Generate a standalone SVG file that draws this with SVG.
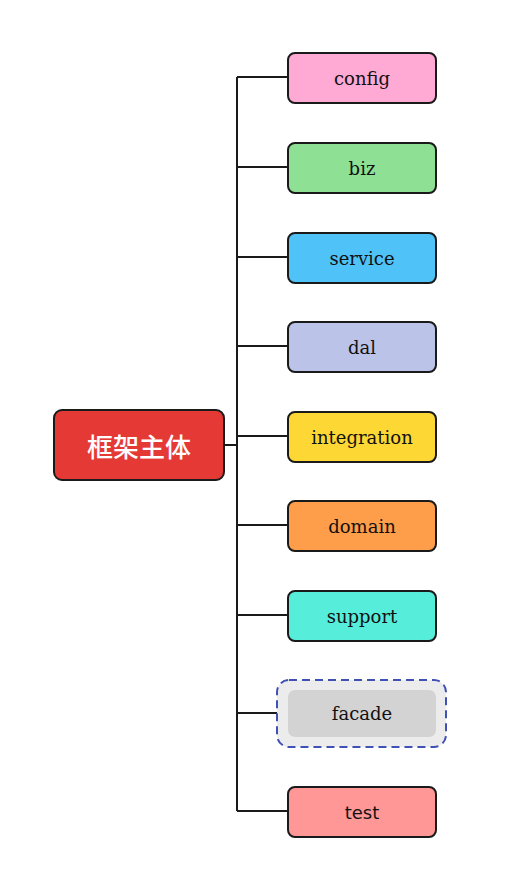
<svg xmlns="http://www.w3.org/2000/svg" width="510" height="890" viewBox="0 0 510 890">
<style>
.n{stroke:#1a1a1a;stroke-width:2}
.t{font-family:"DejaVu Serif","Liberation Serif",serif;font-size:18px;fill:#111;text-anchor:middle;dominant-baseline:central}
.c{fill:none;stroke:#1a1a1a;stroke-width:2}
</style>
<rect width="510" height="890" fill="#ffffff"/>
<g id="connectors">
<path class="c" d="M224 445H237M237 77V811M237 77H288M237 167H288M237 257H288M237 346H288M237 436H288M237 525H288M237 615H288M237 713H288M237 811H288"/>
</g>
<g id="root">
<rect class="n" x="54" y="410" width="170" height="70" rx="8" fill="#e53935"/>
<text x="139" y="445" font-family="'Noto Sans CJK SC',sans-serif" font-size="26" font-weight="500" fill="#fff" text-anchor="middle" dominant-baseline="central">框架主体</text>
</g>
<g id="config"><rect class="n" x="288" y="53" width="148" height="50" rx="7" fill="#ffaad5"/><text class="t" x="362" y="78">config</text></g>
<g id="biz"><rect class="n" x="288" y="143" width="148" height="50" rx="7" fill="#8ee094"/><text class="t" x="362" y="168">biz</text></g>
<g id="service"><rect class="n" x="288" y="233" width="148" height="50" rx="7" fill="#4fc3f7"/><text class="t" x="362" y="258">service</text></g>
<g id="dal"><rect class="n" x="288" y="322" width="148" height="50" rx="7" fill="#bcc3e8"/><text class="t" x="362" y="347">dal</text></g>
<g id="integration"><rect class="n" x="288" y="412" width="148" height="50" rx="7" fill="#fdd835"/><text class="t" x="362" y="437">integration</text></g>
<g id="domain"><rect class="n" x="288" y="501" width="148" height="50" rx="7" fill="#ff9e4a"/><text class="t" x="362" y="526">domain</text></g>
<g id="support"><rect class="n" x="288" y="591" width="148" height="50" rx="7" fill="#56eedb"/><text class="t" x="362" y="616">support</text></g>
<g id="facade">
<rect x="277" y="680" width="169" height="67" rx="12" fill="#ececec" stroke="#3f51b5" stroke-width="2" stroke-dasharray="8 5"/>
<rect x="288" y="690" width="148" height="47" rx="7" fill="#d3d3d3"/>
<text class="t" x="362" y="713">facade</text>
</g>
<g id="test"><rect class="n" x="288" y="787" width="148" height="50" rx="7" fill="#ff9797"/><text class="t" x="362" y="812" style="font-family:'DejaVu Sans','Liberation Sans',sans-serif">test</text></g>
</svg>
